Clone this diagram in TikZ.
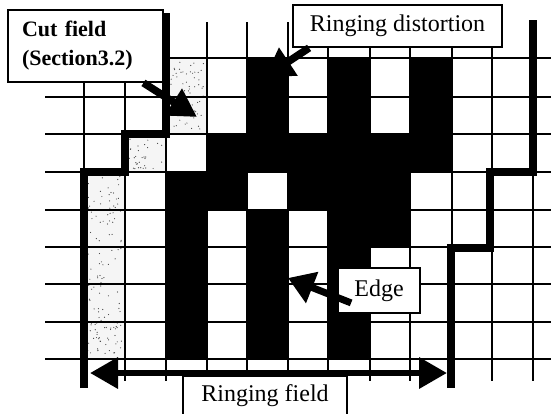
\documentclass[tikz,border=0pt]{standalone}
\usepackage{fontspec}
\setmainfont{Liberation Serif}
\usetikzlibrary{arrows.meta}
\begin{document}
\begin{tikzpicture}[x=1pt,y=-1pt,
  gridline/.style={line width=2pt, black},
  stair/.style={line width=7.5pt, line join=miter},
  lbl/.style={draw, line width=1.8pt, fill=white, font=\fontsize{24}{29}\selectfont, inner sep=0pt},
  bigarrow/.style={line width=7.5pt, -{Triangle[length=28pt,width=30pt]}},
  speck/.style={fill=gray!8},
  blk/.style={fill=black}
]
\useasboundingbox (0,0) rectangle (551,413);
\fill[white] (0,0) rectangle (551,413);
% speckled (cut) cells
\fill[speck] (84,172) rectangle (125,359);
\fill[speck] (125,134) rectangle (166,172);
\fill[speck] (166,58) rectangle (207,134);
\pgfmathsetseed{12}
\foreach \ax/\ay/\bx/\by/\n in {84/172/125/359/130, 125/134/166/172/30, 166/58/207/134/60} {
  \foreach \k in {1,...,\n} {
    \pgfmathsetmacro\px{\ax+3+rnd*(\bx-\ax-6)}
    \pgfmathsetmacro\py{\ay+3+rnd*(\by-\ay-6)}
    \fill[black!75] (\px,\py) circle (0.6);
  }
}
% black cells
\fill[blk] (166,172) rectangle (207,359);
\fill[blk] (207,134) rectangle (247,210);
\fill[blk] (247,58) rectangle (288,172);
\fill[blk] (247,210) rectangle (288,359);
\fill[blk] (288,134) rectangle (328,210);
\fill[blk] (328,58) rectangle (370,359);
\fill[blk] (370,134) rectangle (410,247);
\fill[blk] (410,58) rectangle (452,172);
% grid
\foreach \x in {84,125,166,207,247,288,328,370,410,452,492,533}
  \draw[gridline] (\x,22) -- (\x,381);
\foreach \y in {58,97,134,172,210,247,284,322,359}
  \draw[gridline] (45,\y) -- (551,\y);
% staircase borders of the ringing field
\draw[stair] (84,388) -- (84,172) -- (125,172) -- (125,134) -- (166,134) -- (166,13);
\draw[stair] (533,20) -- (533,172) -- (490,172) -- (490,248) -- (451,248) -- (451,388);
% label boxes
\node[lbl, font=\fontsize{22}{29}\selectfont\bfseries, minimum width=155pt, minimum height=72pt,
      text width=127pt, align=left] (cutbox) at (85.5,46) {Cut field\\(Section3.2)};
\node[lbl, minimum width=209pt, minimum height=42pt] (rdbox) at (397.5,26) {Ringing distortion};
\node[lbl, minimum width=82pt, minimum height=45pt] (edgebox) at (379,290.5) {Edge};
\node[lbl, minimum width=164pt, minimum height=40pt, anchor=north] (rfbox) at (265,375) {Ringing field};
% arrows
\coordinate (cuttip) at (197,117);
\coordinate (rdtip) at (265,77);
\coordinate (edgetip) at (288,278);
\coordinate (rfL) at (90,373);
\coordinate (rfR) at (447,373);
\draw[bigarrow] (cutbox) -- (cuttip);
\draw[bigarrow, -{Triangle[length=28pt,width=32pt]}] ([xshift=17pt]rdbox.south west) -- (rdtip);
\draw[bigarrow, line width=7pt, -{Triangle[length=26pt,width=32pt]}] ([xshift=14pt,yshift=11pt]edgebox.south west) -- (edgetip);
\draw[line width=6.5pt, {Triangle[length=28pt,width=30pt]}-{Triangle[length=28pt,width=30pt]}] (rfL) -- (rfR);
\end{tikzpicture}
\end{document}
